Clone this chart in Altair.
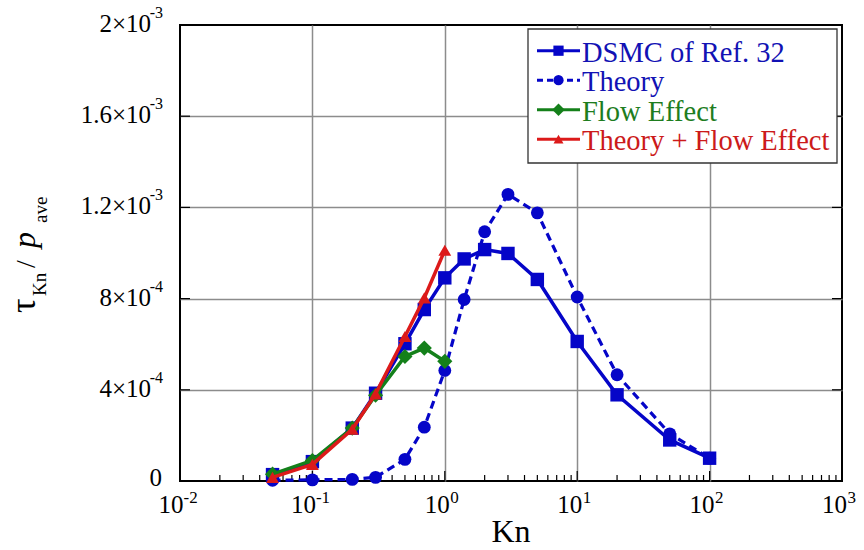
import altair as alt
import pandas as pd

# ---------------- data ----------------
kn_dsmc = [0.05, 0.1, 0.2, 0.3, 0.5, 0.7, 1.0, 1.4, 2.0, 3.0, 5.0, 10, 20, 50, 100]
tau_dsmc = [0.28e-4, 0.85e-4, 2.32e-4, 3.85e-4, 6.02e-4, 7.52e-4, 8.91e-4, 9.74e-4,
            10.15e-4, 9.98e-4, 8.84e-4, 6.12e-4, 3.78e-4, 1.80e-4, 1.00e-4]

kn_theory = [0.05, 0.1, 0.2, 0.3, 0.5, 0.7, 1.0, 1.4, 2.0, 3.0, 5.0, 10, 20, 50, 100]
tau_theory = [0.03e-4, 0.05e-4, 0.07e-4, 0.16e-4, 0.95e-4, 2.36e-4, 4.85e-4, 7.96e-4,
              10.93e-4, 12.57e-4, 11.76e-4, 8.07e-4, 4.66e-4, 2.07e-4, 1.00e-4]

kn_flow = [0.05, 0.1, 0.2, 0.3, 0.5, 0.7, 1.0]
tau_flow = [0.30e-4, 0.90e-4, 2.32e-4, 3.76e-4, 5.46e-4, 5.83e-4, 5.25e-4]

kn_sum = [0.05, 0.1, 0.2, 0.3, 0.5, 0.7, 1.0]
tau_sum = [0.16e-4, 0.73e-4, 2.27e-4, 3.82e-4, 6.34e-4, 8.03e-4, 10.12e-4]

series_names = ["DSMC of Ref. 32", "Theory", "Flow Effect", "Theory + Flow Effect"]
series_kn = [kn_dsmc, kn_theory, kn_flow, kn_sum]
series_tau = [tau_dsmc, tau_theory, tau_flow, tau_sum]

x_tick_values = [0.01, 0.1, 1, 10, 100, 1000]
x_tick_exps = ["-2", "-1", "0", "1", "2", "3"]
y_tick_values = [0, 4e-4, 8e-4, 1.2e-3, 1.6e-3, 2e-3]
y_tick_mants = ["0", "4\u00d710", "8\u00d710", "1.2\u00d710", "1.6\u00d710", "2\u00d710"]
y_tick_exps = ["", "-4", "-4", "-3", "-3", "-3"]

# ---------------- styling ----------------
FONT = "Liberation Serif"
W, H = 662, 456
line_colors = ["#0505c8", "#0505c8", "#14801a", "#dc1a1a"]
text_colors = ["#1212b4", "#1212b4", "#1e7d1e", "#cc1a1a"]
shapes = ["square", "circle", "diamond", "triangle-up"]
sizes = [180, 165, 230, 165]
legend_sizes = [105, 105, 155, 100]
dashes = [None, [8, 5], None, None]
widths = [3.5, 3.2, 3.5, 3.5]

rows = []
for name, kns, taus in zip(series_names, series_kn, series_tau):
    for k, t in zip(kns, taus):
        rows.append({"series": name, "kn": k, "tau": t})
df = pd.DataFrame(rows)

xs = alt.Scale(type="log", domain=[0.01, 1000], nice=False)
ys = alt.Scale(domain=[0, 0.002], nice=False, zero=False)

x_grid = [v for v in x_tick_values[1:-1]]
y_grid = [v for v in y_tick_values[1:-1]]

xaxis = alt.Axis(values=x_grid, grid=True, gridColor="#8c8c8c", gridWidth=1.5,
                 labels=False, ticks=False, domain=False, title=None)
yaxis = alt.Axis(values=y_grid, grid=True, gridColor="#8c8c8c", gridWidth=1.5,
                 labels=False, ticks=False, domain=False, title=None)


def X(f):
    return alt.X(f"{f}:Q", scale=xs, axis=xaxis)


def Y(f):
    return alt.Y(f"{f}:Q", scale=ys, axis=yaxis)


def one():
    return alt.Data(values=[{"a": 1}])


layers = []

# minor ticks on bottom axis (inward)
minor = [m * 10.0 ** e for e in range(-2, 3) for m in range(2, 10)]
layers.append(alt.Chart(pd.DataFrame({"v": minor})).mark_rule(color="black", strokeWidth=1.2)
              .encode(x=X("v"), y=alt.value(H), y2=alt.value(H - 6)))
# major ticks (inward)
layers.append(alt.Chart(pd.DataFrame({"v": x_grid})).mark_rule(color="black", strokeWidth=1.2)
              .encode(x=X("v"), y=alt.value(H), y2=alt.value(H - 10)))
layers.append(alt.Chart(pd.DataFrame({"v": y_grid})).mark_rule(color="black", strokeWidth=1.2)
              .encode(y=Y("v"), x=alt.value(0), x2=alt.value(10)))
layers.append(alt.Chart(pd.DataFrame({"v": y_grid})).mark_rule(color="black", strokeWidth=1.2)
              .encode(y=Y("v"), x=alt.value(W), x2=alt.value(W - 10)))

# data series
for i, name in enumerate(series_names):
    base = alt.Chart(df).transform_filter(alt.datum.series == name)
    lkw = dict(color=line_colors[i], strokeWidth=widths[i])
    if dashes[i]:
        lkw["strokeDash"] = dashes[i]
    layers.append(base.mark_line(**lkw).encode(x=X("kn"), y=Y("tau")))
    layers.append(base.mark_point(shape=shapes[i], size=sizes[i], filled=True, opacity=1,
                                  color=line_colors[i]).encode(x=X("kn"), y=Y("tau")))

# legend
layers.append(alt.Chart(one()).mark_rect(fill="white", stroke="#333333", strokeWidth=1.3)
              .encode(x=alt.value(348), x2=alt.value(657), y=alt.value(4), y2=alt.value(138)))
for i, name in enumerate(series_names):
    yc = 25.7 + 29.5 * i
    lkw = dict(color=line_colors[i], strokeWidth=3)
    if dashes[i]:
        lkw["strokeDash"] = [6, 4]
    layers.append(alt.Chart(one()).mark_rule(**lkw)
                  .encode(x=alt.value(357), x2=alt.value(400), y=alt.value(yc)))
    layers.append(alt.Chart(one()).mark_point(shape=shapes[i], size=legend_sizes[i], filled=True,
                                              opacity=1, color=line_colors[i])
                  .encode(x=alt.value(378.5), y=alt.value(yc)))
    layers.append(alt.Chart(one()).mark_text(text=name, align="left", baseline="alphabetic",
                                             font=FONT, fontSize=28.5, color=text_colors[i])
                  .encode(x=alt.value(402), y=alt.value(yc + 11)))

# x tick labels (10 with superscript exponent)
xl = pd.DataFrame({"v": x_tick_values, "e": x_tick_exps})
for cond, dx_main, dx_exp in [("datum.v < 1", 3.5, 3.5), ("datum.v >= 1", 5, 5.5)]:
    b = alt.Chart(xl).transform_filter(cond)
    layers.append(b.mark_text(text="10", align="right", baseline="alphabetic", font=FONT,
                              fontSize=25, color="black", dx=dx_main)
                  .encode(x=X("v"), y=alt.value(H + 32)))
    layers.append(b.mark_text(align="left", baseline="alphabetic", font=FONT,
                              fontSize=17, color="black", dx=dx_exp)
                  .encode(x=X("v"), y=alt.value(H + 22), text="e:N"))

# y tick labels
yl = pd.DataFrame({"v": y_tick_values, "m": y_tick_mants, "e": y_tick_exps})
layers.append(alt.Chart(yl).transform_filter("datum.v > 0")
              .mark_text(align="right", baseline="alphabetic", font=FONT, fontSize=25,
                         color="black", dy=7)
              .encode(y=Y("v"), x=alt.value(-29), text="m:N"))
layers.append(alt.Chart(yl).transform_filter("datum.v > 0")
              .mark_text(align="right", baseline="alphabetic", font=FONT, fontSize=16,
                         color="black", dy=-7)
              .encode(y=Y("v"), x=alt.value(-17), text="e:N"))
layers.append(alt.Chart(yl).transform_filter("datum.v == 0")
              .mark_text(align="right", baseline="alphabetic", font=FONT, fontSize=25,
                         color="black", dy=5)
              .encode(y=Y("v"), x=alt.value(-18), text="m:N"))

# axis titles
layers.append(alt.Chart(one()).mark_text(text="Kn", align="center", baseline="alphabetic",
                                         font=FONT, fontSize=32, color="black")
              .encode(x=alt.value(W / 2), y=alt.value(H + 61)))
ytitle = [("\u03c4", -145, 288, 36, "normal"),
          ("Kn", -134, 271, 19, "normal"),
          ("/", -145, 243, 28, "normal"),
          ("p", -145, 223, 32, "italic"),
          ("ave", -133, 198, 19, "normal")]
for txt, tx, ty, fs, st in ytitle:
    layers.append(alt.Chart(one()).mark_text(text=txt, align="left", baseline="alphabetic",
                                             angle=270, font=FONT, fontSize=fs, fontStyle=st,
                                             color="black")
                  .encode(x=alt.value(tx), y=alt.value(ty)))

chart = (alt.layer(*layers)
         .properties(width=W, height=H, autosize=alt.AutoSizeParams(type="none"),
                     padding={"left": 180, "top": 25, "right": 22, "bottom": 69},
                     background="white")
         .configure_view(stroke="black", strokeWidth=2)
         .configure_text(font=FONT))

chart.save("out.html", embed_options={"renderer": "svg", "actions": False})
